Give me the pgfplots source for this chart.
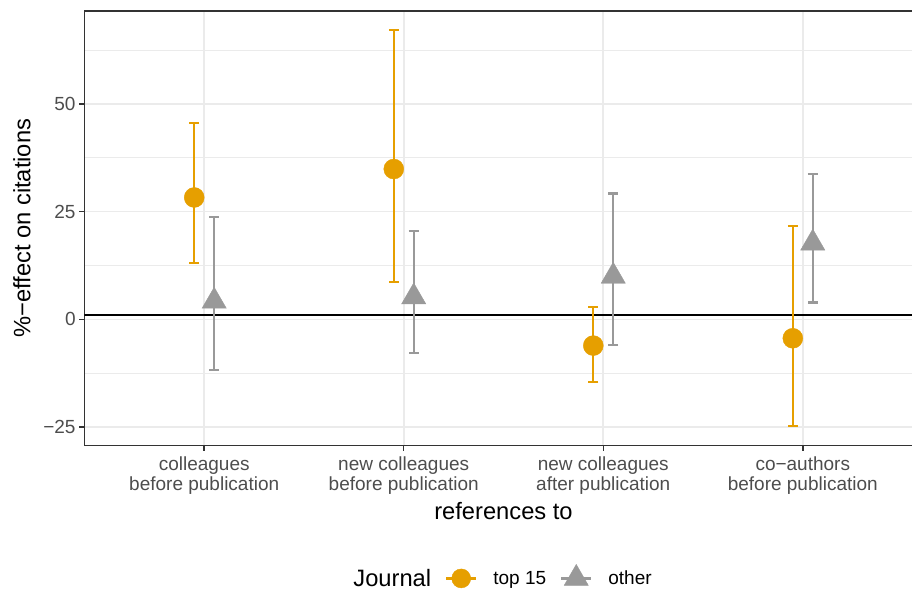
\documentclass[border=0pt]{standalone}
\usepackage{pgfplots}
\pgfplotsset{compat=1.18}
\usepackage{pgfplotstable}
\usepackage{fontspec}
\setmainfont{Liberation Sans}
\definecolor{topc}{HTML}{E69F00}
\definecolor{othc}{HTML}{999999}
\definecolor{gridc}{HTML}{EBEBEB}
\definecolor{tickc}{HTML}{4D4D4D}
\definecolor{tickl}{HTML}{333333}
\newcommand\tickfont{\fontsize{19}{20}\selectfont}
\newcommand\titlefont{\fontsize{23.7}{26}\selectfont}

% x  y  error-plus  error-minus
\pgfplotstableread{
x    y     ep    em
0.95 28.3  17.2  15.2
1.95 34.9  32.3  26.2
2.95 -6.1  9.0   8.5
3.95 -4.4  26.1  20.4
}\topdata
\pgfplotstableread{
x    y     ep    em
1.05 4.2   19.5  16.0
2.05 5.2   15.3  13.0
3.05 10.0  19.2  16.0
4.05 17.7  16.0  13.8
}\othdata

\begin{document}
\begin{tikzpicture}
\path[use as bounding box] (-84.5pt,-146.5pt) rectangle (827.5pt,445.5pt);
\begin{axis}[
  at={(0pt,0pt)}, anchor=south west,
  scale only axis, width=838pt, height=434.5pt,
  xmin=0.4, xmax=4.6, ymin=-29.3, ymax=71.6,
  xtick={1,2,3,4},
  xticklabels={{colleagues\\before publication},{new colleagues\\before publication},{new colleagues\\after publication},{co−authors\\before publication}},
  xticklabel style={align=center, font=\tickfont, text=tickc, yshift=-2pt},
  ytick={-25,0,25,50},
  yticklabels={−25,0,25,50},
  yticklabel style={font=\tickfont, text=tickc},
  minor ytick={-12.5,12.5,37.5,62.5},
  ymajorgrids, yminorgrids, xmajorgrids,
  major grid style={gridc, line width=1.6pt},
  minor grid style={gridc, line width=0.8pt},
  tick pos=left, tick align=outside,
  major tick length=5.4pt, minor tick length=0pt,
  tick style={tickl, line width=1.5pt},
  axis line style={tickl, line width=1.6pt},
  xlabel={references to},
  ylabel={\%−effect on citations},
  xlabel style={font=\titlefont, at={(axis description cs:0.5,-0.1507)}, anchor=center},
  ylabel style={font=\titlefont, at={(axis description cs:-0.0746,0.5)}, anchor=center},
  legend columns=-1,
  legend style={at={(axis description cs:0.4905,-0.3026)}, anchor=center, draw=none, fill=none,
    font=\tickfont,
    /tikz/every even column/.append style={column sep=12pt},
    /tikz/every odd column/.append style={column sep=14pt}},
  legend cell align=left,
]
\addlegendimage{empty legend}
\addlegendentry{\titlefont Journal}
\addplot[black, line width=1.8pt, forget plot] coordinates {(0.4,1) (4.6,1)};
\addplot[only marks, topc, mark=*, mark size=10pt,
  legend image code/.code={\draw[topc, line width=2.2pt] (0pt,0pt) -- (30pt,0pt); \fill[topc] (15pt,0pt) circle (9.5pt);},
  error bars/.cd, y dir=both, y explicit,
  error bar style={topc, line width=2.2pt},
  error mark options={rotate=90, topc, line width=2.2pt, mark size=5pt}]
  table[x=x, y=y, y error plus=ep, y error minus=em]{\topdata};
\addlegendentry{top 15}
\addplot[only marks, othc, mark=triangle*, mark size=14pt,
  legend image code/.code={\draw[othc, line width=2.2pt] (0pt,0pt) -- (30pt,0pt); \fill[othc] (15pt,14pt) -- (27.1pt,-7pt) -- (2.9pt,-7pt) -- cycle;},
  error bars/.cd, y dir=both, y explicit,
  error bar style={othc, line width=2.2pt},
  error mark options={rotate=90, othc, line width=2.2pt, mark size=5pt}]
  table[x=x, y=y, y error plus=ep, y error minus=em]{\othdata};
\addlegendentry{other}
\end{axis}
\end{tikzpicture}
\end{document}
